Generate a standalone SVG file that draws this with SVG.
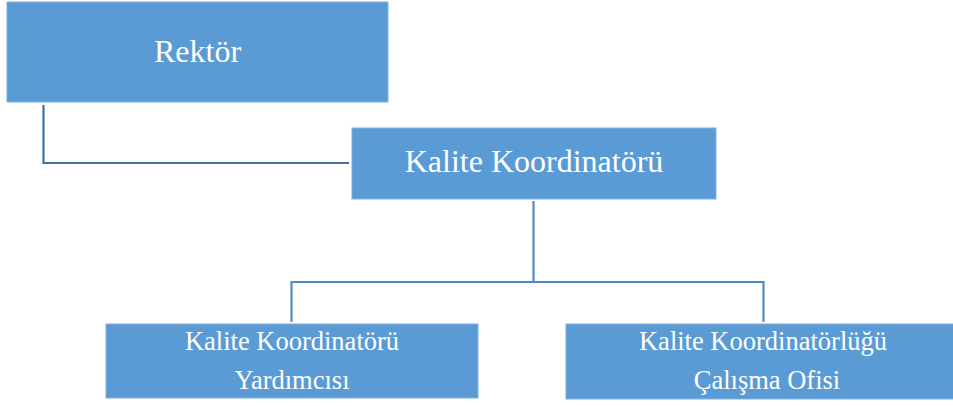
<svg xmlns="http://www.w3.org/2000/svg" width="953" height="406" viewBox="0 0 953 406">
<style>
.box{fill:#5B9BD5;stroke:#7FB0DE;stroke-width:1}
.t{font-family:"Liberation Serif","Times New Roman",serif;fill:#FFFFFF;text-anchor:middle}
.big{font-size:32px}
.small{font-size:26.5px}
.c{fill:none;stroke-width:2.2}
</style>
<rect width="953" height="406" fill="#FFFFFF"/>
<g id="connectors">
<polyline class="c" stroke="#41719C" points="43.5,105 43.5,163 349,163"/>
<polyline class="c" stroke="#5289C4" points="533.5,201 533.5,282"/>
<polyline class="c" stroke="#5289C4" points="291.5,322 291.5,282 763.5,282 763.5,322"/>
</g>
<g id="rektor">
<rect class="box" x="7" y="2" width="381" height="100"/>
<text class="t big" x="197.5" y="62">Rektör</text>
</g>
<g id="kalite-koordinatoru">
<rect class="box" x="352" y="128" width="364" height="71"/>
<text class="t big" x="534" y="172">Kalite Koordinatörü</text>
</g>
<g id="koordinator-yardimcisi">
<rect class="box" x="106" y="324" width="372" height="74"/>
<text class="t small" x="292" y="350">Kalite Koordinatörü</text>
<text class="t small" x="292" y="389">Yardımcısı</text>
</g>
<g id="calisma-ofisi">
<rect class="box" x="566" y="324" width="388" height="75"/>
<text class="t small" x="763" y="350">Kalite Koordinatörlüğü</text>
<text class="t small" x="767" y="389">Çalışma Ofisi</text>
</g>
</svg>
